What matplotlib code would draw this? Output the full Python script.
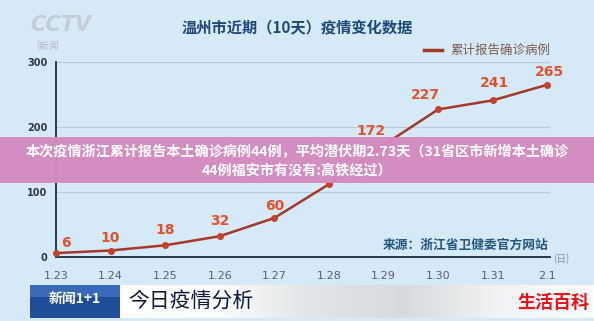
import numpy as np
import matplotlib
matplotlib.use("Agg")
import matplotlib.pyplot as plt
from matplotlib.patches import Rectangle

plt.rcParams['font.family'] = ['Noto Sans CJK SC', 'DejaVu Sans']

# data (1.28 is hidden behind the banner, estimated)
dates = ['1.23', '1.24', '1.25', '1.26', '1.27', '1.28', '1.29', '1.30', '1.31', '2.1']
cases = [6, 10, 18, 32, 60, 112, 172, 227, 241, 265]
y_ticks = [0, 100, 200, 300]

title = '温州市近期（10天）疫情变化数据'
legend_label = '累计报告确诊病例'
source = '来源：浙江省卫健委官方网站'
banner_lines = ['本次疫情浙江累计报告本土确诊病例44例，平均潜伏期2.73天（31省区市新增本土确诊',
                '44例福安市有没有:高铁经过）']

# label offsets in pixels (dx, dy); None = label hidden under the banner
label_offsets = [(10, 10), (0, 13), (0, 15), (0, 15), (0, 12),
                 None, (-13, 14), (-13, 14), (2, 17), (2, 13)]

W, H = 594, 321
bg = '#d6e9f6'
fig = plt.figure(figsize=(W / 100, H / 100), dpi=100)
fig.patch.set_facecolor(bg)

# main chart axes, placed in pixel terms
left, right, top, bottom = 56, 550, 62, 257
ax = fig.add_axes([left / W, 1 - bottom / H, (right - left) / W, (bottom - top) / H])
ax.set_facecolor(bg)
x = np.arange(len(dates))
ax.set_xlim(0, 9.05)
ax.set_ylim(0, 300)

for t in y_ticks[1:]:
    ax.axhline(t, color='#b5cbdc', lw=0.9, zorder=1)

ax.plot(x, cases, color='#a3382b', lw=1.8, zorder=3, clip_on=False)
ax.plot(x, cases, 'o', color='#c4402a', ms=4, zorder=4, clip_on=False)

for xi, v, off in zip(x, cases, label_offsets):
    if off is None:
        continue
    dx, dy = off
    ax.annotate(str(v), (xi, v), xytext=(dx * 0.72, dy * 0.72), textcoords='offset points',
                ha='center', va='center', fontsize=10, fontweight='bold',
                color='#e2532c', family='DejaVu Sans', zorder=5)

for s in ['top', 'right']:
    ax.spines[s].set_visible(False)
ax.spines['left'].set_color('#1b2a38')
ax.spines['bottom'].set_color('#1b2a38')
ax.spines['left'].set_linewidth(1.3)
ax.spines['bottom'].set_linewidth(1.3)

ax.set_yticks(y_ticks)
ax.set_yticklabels([str(t) for t in y_ticks], fontsize=7, fontweight='bold',
                   color='#2e3944', family='DejaVu Sans')
ax.set_xticks(x)
ax.set_xticklabels(dates, fontsize=8, color='#56606a', family='DejaVu Sans')
ax.tick_params(length=0, pad=6)
ax.tick_params(axis='x', pad=10)

# overlay axes in pixel coordinates
ov = fig.add_axes([0, 0, 1, 1], zorder=10)
ov.set_xlim(0, W)
ov.set_ylim(H, 0)
ov.axis('off')
ov.patch.set_alpha(0)

# title and legend
ov.text(297, 27, title, ha='center', va='center', fontsize=11, fontweight='bold', color='#1b4a7a')
ov.plot([424, 442], [50, 50], color='#a3382b', lw=2.5)
ov.text(450, 50, legend_label, ha='left', va='center', fontsize=9, color='#7b5b4e')
ov.text(548, 245, source, ha='right', va='center', fontsize=9.2, fontweight='bold', color='#245684')
ov.text(553, 259, '(日)', ha='left', va='center', fontsize=7, color='#8a949c')

# CCTV watermark
ov.text(30, 25, 'CCTV', ha='left', va='center', fontsize=15, fontweight='bold',
        fontstyle='italic', color='#c3ced8', family='DejaVu Sans')
ov.text(36, 46, '(新闻', ha='left', va='center', fontsize=7, color='#b3bec8')

# pink banner
ov.add_patch(Rectangle((0, 137), W, 46, color='#d48ac0', alpha=0.97, lw=0))
ov.text(297, 152, banner_lines[0], ha='center', va='center', fontsize=10.2,
        fontweight='bold', color='white')
ov.text(297, 171, banner_lines[1], ha='center', va='center', fontsize=10.2,
        fontweight='bold', color='white')

# bottom strip
grad = np.linspace(0, 1, 256)[None, :]
strip_cmap = matplotlib.colors.LinearSegmentedColormap.from_list(
    'strip', ['#ffffff', '#fbfcfc', '#e2e5e7', '#d7dbde', '#f2f3f4', '#fafbfb'])
ov.imshow(grad, extent=(120, W, 318, 285), cmap=strip_cmap, aspect='auto', zorder=1)
ov.add_patch(Rectangle((30, 285), 90, 33, color='#1f4d98', lw=0, zorder=2))
ov.add_patch(Rectangle((30, 285), 90, 12, color='#3a6ab5', lw=0, zorder=2))
ov.text(75, 299, '新闻1+1', ha='center', va='center', fontsize=10, fontweight='bold',
        color='white', zorder=3)
ov.text(128, 301, '今日疫情分析', ha='left', va='center', fontsize=15, color='#0e1a3c', zorder=3)
ov.text(589, 302, '生活百科', ha='right', va='center', fontsize=13, fontweight='bold',
        color='#e8141a', zorder=3)
ov.set_xlim(0, W)
ov.set_ylim(H, 0)

fig.savefig('out.png', dpi=100, facecolor=fig.get_facecolor())
